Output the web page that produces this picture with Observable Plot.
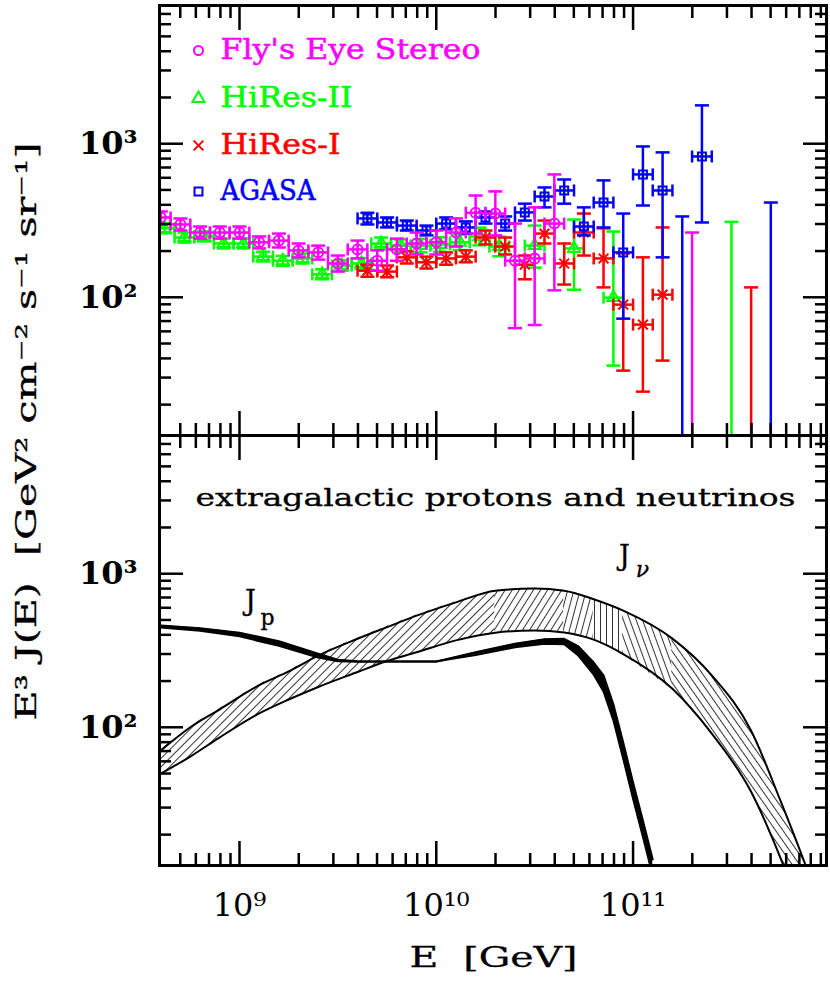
<!DOCTYPE html>
<html><head><meta charset="utf-8">
<script src="https://cdn.jsdelivr.net/npm/d3@7"></script>
<script src="https://cdn.jsdelivr.net/npm/@observablehq/plot@0.6"></script>
<style>
body{margin:0;background:#fff;}
#wrap{position:relative;width:830px;height:988px;background:#fff;}
#wrap svg{position:absolute;left:0;}
</style></head><body><div id="wrap"></div>
<script>
// ---------- data (log10 E in GeV, E^3 J values) ----------
const flyLogE = [8.6,8.7,8.8,8.9,9.0,9.1,9.2,9.3,9.4,9.5,9.6,9.7,9.8,9.9,10.0,10.1,10.2,10.3,10.4,10.5,10.6];
const flyJ  = [331,298,264,264,264,228,234,202,196,166,205,173,205,224,228,264,355,351,173,179,302];
const flyHi = [362,326,289,289,289,249,260,224,217,187,234,202,241,264,272,326,460,489,302,385,631];
const flyLo = [298,272,241,241,241,208,211,182,176,147,179,149,173,190,190,214,260,253,63,66,111];
const flyULLogE = [11.3], flyUL = [264];

const hr2LogE = [8.62,8.72,8.82,8.92,9.02,9.12,9.22,9.32,9.42,9.52,9.62,9.72,9.82,9.92,10.02,10.12,10.22,10.32,10.5,10.7,10.9];
const hr2J  = [281,245,249,224,224,184,173,179,141,161,166,224,217,217,221,228,249,214,217,208,99.5];
const hr2Hi = [303,264,268,241,241,198,186,193,152,174,180,245,238,240,246,256,284,248,293,321,268];
const hr2Lo = [261,227,231,208,208,171,160,166,131,149,153,205,198,196,198,203,218,185,156,112,35.9];
const hr2ULLogE = [11.5], hr2UL = [310];

const hr1LogE = [9.65,9.75,9.85,9.95,10.05,10.15,10.25,10.35,10.45,10.55,10.65,10.75,10.85,10.95,11.05,11.15];
const hr1J  = [149,147,182,169,179,184,245,214,163,260,166,264,179,89.6,66.4,104];
const hr1Hi = [163,161,199,184,196,202,272,245,187,316,224,351,281,193,182,285];
const hr1Lo = [136,135,166,154,163,169,221,190,131,224,121,187,116,33.3,24.3,38.7];
const hr1ULLogE = [11.6], hr1UL = [116];

const agLogE = [9.65,9.75,9.85,9.95,10.05,10.15,10.25,10.35,10.45,10.55,10.65,10.75,10.85,10.95,11.05,11.15,11.35];
const agJ  = [326,307,293,272,302,285,331,302,357,453,496,289,414,196,631,496,826];
const agHi = [355,331,316,293,331,312,362,336,407,519,585,385,577,351,960,878,1777];
const agLo = [298,285,272,253,277,260,302,272,316,385,407,253,285,72.6,396,182,307];
const agULLogE = [11.25,11.7], agUL = [336,414];

// extragalactic protons (band edges)
const jpLogE = [8.6,8.8,9.0,9.2,9.4,9.5,9.6,9.8,10.0,10.05,10.2,10.4,10.55,10.65,10.72,10.8,10.85,10.9,10.95,11.0,11.05,11.1];
const jpHi = [460,441,413,363,301,275,269,268,268,277,308,350,374,377,338,264,218,141,79.5,43.7,24.7,13.8];
const jpLo = [446,425,391,339,285,269,267,268,268,275,296,332,350,347,295,220,171,111,62.5,34.3,19.4,10.8];

// neutrinos (band edges)
const nuLogE = [8.6,8.75,8.9,9.1,9.25,9.4,9.6,9.75,9.9,10.1,10.3,10.5,10.65,10.8,10.95,11.2,11.4,11.6,11.75,11.88,11.99];
const nuHi = [70.5,100,131,188,231,293,377,449,533,651,775,800,775,682,575,378,218,95,33,12.3,5];
const nuLo = [49.9,64.5,86,123,151.6,183,229,270,308,368,413,427,414,372,300,178,91,38,14,5,2];

// ticks
const xMajor = [1e9,1e10,1e11];
const xMinor = [5e8,6e8,7e8,8e8,9e8,2e9,3e9,4e9,5e9,6e9,7e9,8e9,9e9,2e10,3e10,4e10,5e10,6e10,7e10,8e10,9e10,2e11,3e11,4e11,5e11,6e11,7e11,8e11,9e11];
const yMajor = [1e2,1e3];
const yMinor = [20,30,40,50,60,70,80,90,200,300,400,500,600,700,800,900,2000,3000,4000,5000,6000,7000];

const legendNames = ["Fly's Eye Stereo","HiRes-II","HiRes-I","AGASA"];
const legendColors = ["#ff00ff","#00ff00","#ff0000","#0000ff"];
const legendSymbols = ["circle","triangle","times","square"];

// ---------- helpers ----------
const FONT = "DejaVu Serif";
const SUP = "⁰¹²³⁴⁵⁶⁷⁸⁹";
const pow10Label = v => "10" + String(Math.round(Math.log10(v))).split("").map(c => SUP[+c]).join("");
const hcap = {draw(ctx, size){const r = Math.sqrt(size/Math.PI); ctx.moveTo(-r,0); ctx.lineTo(r,0);}};
const vcap = {draw(ctx, size){const r = Math.sqrt(size/Math.PI); ctx.moveTo(0,-r); ctx.lineTo(0,r);}};
const HW = 0.05; // half bin width in dex
const rows = (le, J, hi, lo) => le.map((l,i) => ({E:10**l, E1:10**(l-HW), E2:10**(l+HW), J:J[i], hi:hi[i], lo:lo[i]}));
const ulRows = (le, J) => le.map((l,i) => ({E:10**l, J:J[i]}));

const xScale = {type:"log", domain:[10**8.5935, 10**11.983], axis:null};
const yScale = {type:"log", domain:[10**1.1, 10**3.9], axis:null};

function frameTicks() {
  const o = {tickFormat: () => "", label: null, strokeWidth: 2.5};
  return [
    Plot.axisX(xMajor, {...o, anchor:"bottom", tickSize:-24}),
    Plot.axisX(xMinor, {...o, anchor:"bottom", tickSize:-12}),
    Plot.axisX(xMajor, {...o, anchor:"top", tickSize:-24}),
    Plot.axisX(xMinor, {...o, anchor:"top", tickSize:-12}),
    Plot.axisY(yMajor, {...o, anchor:"left", tickSize:-24}),
    Plot.axisY(yMinor, {...o, anchor:"left", tickSize:-12}),
    Plot.axisY(yMajor, {...o, anchor:"right", tickSize:-24}),
    Plot.axisY(yMinor, {...o, anchor:"right", tickSize:-12}),
    Plot.frame({strokeWidth:3})
  ];
}

function series(data, ul, color, symbol, r) {
  const w = 2.5;
  return [
    Plot.ruleX(data, {x:"E", y1:"lo", y2:"hi", stroke:color, strokeWidth:w, clip:true}),
    Plot.dot(data, {x:"E", y:"hi", symbol:hcap, r:7, stroke:color, fill:"none", strokeWidth:w, clip:true}),
    Plot.dot(data, {x:"E", y:"lo", symbol:hcap, r:7, stroke:color, fill:"none", strokeWidth:w, clip:true}),
    Plot.ruleY(data, {y:"J", x1:"E1", x2:"E2", stroke:color, strokeWidth:w, clip:true}),
    Plot.dot(data, {x:"E1", y:"J", symbol:vcap, r:6, stroke:color, fill:"none", strokeWidth:w, clip:true}),
    Plot.dot(data, {x:"E2", y:"J", symbol:vcap, r:6, stroke:color, fill:"none", strokeWidth:w, clip:true}),
    Plot.dot(data, {x:"E", y:"J", symbol, r, stroke:color, fill:"none", strokeWidth:2, clip:true}),
    Plot.ruleX(ul, {x:"E", y1:() => yScale.domain[0], y2:"J", stroke:color, strokeWidth:w, clip:true}),
    Plot.dot(ul, {x:"E", y:"J", symbol:hcap, r:7, stroke:color, fill:"none", strokeWidth:w, clip:true})
  ];
}

const legendDy = [45, 93, 140, 186];
const legendMarks = legendNames.flatMap((n,i) => [
  Plot.dot([n], {frameAnchor:"top-left", dx:39, dy:legendDy[i], symbol:legendSymbols[i], r:4.5, stroke:legendColors[i], fill:"none", strokeWidth:2}),
  Plot.text([n], {frameAnchor:"top-left", dx:61, dy:legendDy[i], text:d=>d, textAnchor:"start", lineAnchor:"middle", fill:legendColors[i], stroke:legendColors[i], strokeWidth:0.5, fontSize:27, fontFamily:FONT})
]);

// ---------- top panel ----------
const topPlot = Plot.plot({
  width:830, height:435, marginTop:5, marginBottom:0, marginLeft:159, marginRight:4,
  x:xScale, y:yScale,
  style:{fontFamily:FONT, background:"transparent"},
  marks:[
    ...series(rows(hr2LogE,hr2J,hr2Hi,hr2Lo), ulRows(hr2ULLogE,hr2UL), "#00ff00", "triangle", 4.5),
    ...series(rows(hr1LogE,hr1J,hr1Hi,hr1Lo), ulRows(hr1ULLogE,hr1UL), "#ff0000", "times", 4.5),
    ...series(rows(agLogE,agJ,agHi,agLo), ulRows(agULLogE,agUL), "#0000ff", "square", 4.5),
    ...series(rows(flyLogE,flyJ,flyHi,flyLo), ulRows(flyULLogE,flyUL), "#ff00ff", "circle", 5),
    ...legendMarks,
    Plot.text(yMajor, {y:d=>d, text:pow10Label, frameAnchor:"left", dx:-22, textAnchor:"end", lineAnchor:"middle", fontSize:32, fontWeight:"bold", fontFamily:FONT}),
    ...frameTicks()
  ]
});

// ---------- bottom panel ----------
// hatch patterns: the shading lines turn from "/" on the rising side to "\" on the steep falling side
const hatchAngles = [45, 32, 15, 0, -20, -35];
const hatchSegments = [[0,10],[10,12],[12,13],[13,14],[14,15],[15,20]]; // index ranges into nuLogE
const HS = 6;
const hatchDefs = () => {
  const defs = d3.create("svg:defs");
  hatchAngles.forEach((a, k) => {
    const p = defs.append("pattern").attr("id","hatch"+k).attr("patternUnits","userSpaceOnUse")
      .attr("width",HS).attr("height",HS).attr("patternTransform",`rotate(${a})`);
    p.append("rect").attr("width",HS).attr("height",HS).attr("fill","white");
    p.append("line").attr("x1",0).attr("y1",-1).attr("x2",0).attr("y2",HS+1).attr("stroke","black").attr("stroke-width",1.6);
  });
  return defs.node();
};
const nuRows = nuLogE.map((l,i) => ({E:10**l, hi:nuHi[i], lo:nuLo[i]}));
const jpRows = jpLogE.map((l,i) => ({E:10**l, hi:jpHi[i], lo:jpLo[i]}));
const CURVE = "monotone-x";
const ink = {fill:"black", stroke:"black", strokeWidth:0.3};

const bottomPlot = Plot.plot({
  width:830, height:553, marginTop:0, marginBottom:123, marginLeft:159, marginRight:4,
  x:xScale, y:yScale,
  style:{fontFamily:FONT, background:"transparent", overflow:"visible"},
  marks:[
    hatchDefs,
    ...hatchSegments.map(([a,b],k) => Plot.areaY(nuRows.slice(a, b+1), {x:"E", y1:"lo", y2:"hi", fill:`url(#hatch${k})`, stroke:`url(#hatch${k})`, strokeWidth:1.2, curve:CURVE, clip:true})),
    Plot.line(nuRows, {x:"E", y:"hi", stroke:"black", strokeWidth:2, curve:CURVE, clip:true}),
    Plot.line(nuRows, {x:"E", y:"lo", stroke:"black", strokeWidth:2, curve:CURVE, clip:true}),
    Plot.areaY(jpRows, {x:"E", y1:"lo", y2:"hi", fill:"black", clip:true}),
    Plot.line(jpRows, {x:"E", y:"hi", stroke:"black", strokeWidth:2, clip:true}),
    Plot.line(jpRows, {x:"E", y:"lo", stroke:"black", strokeWidth:2, clip:true}),
    Plot.text(["extragalactic protons and neutrinos"], {frameAnchor:"top", dx:2.5, dy:62, text:d=>d, lineAnchor:"middle", fontSize:25, fontFamily:FONT, ...ink}),
    Plot.text(["J"], {x:10**9.056, y:660, text:d=>d, fontSize:27, fontFamily:FONT, ...ink}),
    Plot.text(["p"], {x:10**9.142, y:519, text:d=>d, fontSize:22, fontFamily:FONT, ...ink}),
    Plot.text(["J"], {x:10**10.956, y:1297, text:d=>d, fontSize:27, fontFamily:FONT, ...ink}),
    Plot.text(["ν"], {x:10**11.048, y:1051, text:d=>d, fontSize:22, fontFamily:FONT, fontStyle:"italic", ...ink}),
    Plot.text(yMajor, {y:d=>d, text:pow10Label, frameAnchor:"left", dx:-22, textAnchor:"end", lineAnchor:"middle", fontSize:32, fontWeight:"bold", fontFamily:FONT}),
    Plot.text(xMajor, {x:d=>d, text:pow10Label, frameAnchor:"bottom", dy:40, lineAnchor:"middle", fontSize:32, fontFamily:FONT}),
    Plot.text(["E  [GeV]"], {frameAnchor:"bottom", dx:0.5, dy:93, text:d=>d, lineAnchor:"middle", fontSize:28, fontFamily:FONT, ...ink}),
    Plot.text(["E³ J(E)  [GeV² cm⁻² s⁻¹ sr⁻¹]"], {frameAnchor:"top-left", dx:-132, dy:-4, rotate:-90, text:d=>d, textAnchor:"middle", lineAnchor:"middle", fontSize:28, fontFamily:FONT, ...ink}),
    ...frameTicks()
  ]
});

const wrap = document.getElementById("wrap");
topPlot.style.top = "0px";
bottomPlot.style.top = "435px";
wrap.appendChild(topPlot);
wrap.appendChild(bottomPlot);

// stretch wide lettering to the widths measured on the reference
const widths = {"Fly's Eye Stereo":260, "HiRes-II":132, "HiRes-I":120, "AGASA":95,
  "extragalactic protons and neutrinos":600, "E  [GeV]":168, "E³ J(E)  [GeV² cm⁻² s⁻¹ sr⁻¹]":578};
for (const svg of [topPlot, bottomPlot]) {
  svg.querySelectorAll("text").forEach(t => {
    const w = widths[t.textContent];
    if (w) { t.setAttribute("textLength", w); t.setAttribute("lengthAdjust", "spacingAndGlyphs"); }
  });
}
</script></body></html>
